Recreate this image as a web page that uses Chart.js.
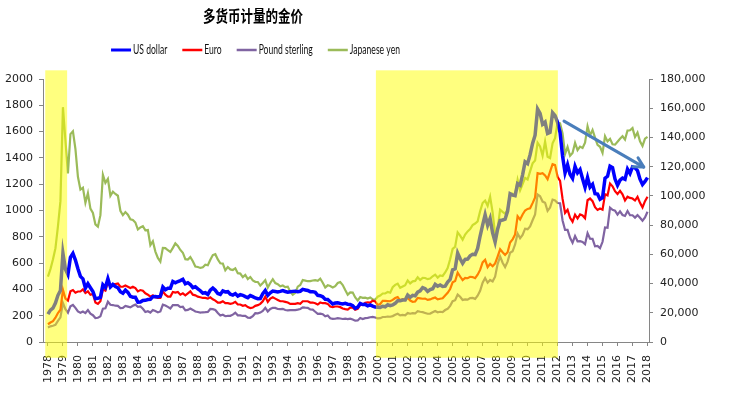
<!DOCTYPE html>
<html>
<head>
<meta charset="utf-8">
<script src="https://cdn.jsdelivr.net/npm/chart.js@4.4.0/dist/chart.umd.min.js"></script>
<style>
  body { margin: 0; background: #fff; }
</style>
</head>
<body>
<canvas id="myChart" width="734" height="396"></canvas>
<script>
// chart text
const chartTitle = "多货币计量的金价";
const seriesNames = ["US dollar", "Euro", "Pound sterling", "Japanese yen"];
const seriesColors = ["#0000FF", "#FF0000", "#8064A2", "#9BBB59"];

// year tick labels on the x axis
const yearLabels = [1978, 1979, 1980, 1981, 1982, 1983, 1984, 1985, 1986, 1987,
  1988, 1989, 1990, 1991, 1992, 1993, 1994, 1995, 1996, 1997, 1998, 1999, 2000,
  2001, 2002, 2003, 2004, 2005, 2006, 2007, 2008, 2009, 2010, 2011, 2012, 2013,
  2014, 2015, 2016, 2017, 2018];

// values, 6 per year starting at the 1978 tick
const firstYear = 1978;
const perYear = 6;

const usDollar = [
  212, 242, 257, 296, 355, 392,
  675, 554, 513, 644, 674, 623,
  557, 499, 480, 409, 443, 413,
  384, 330, 333, 339, 435, 414,
  481, 419, 438, 422, 412, 382,
  371, 395, 377, 347, 341, 341,
  303, 304, 316, 317, 323, 325,
  345, 346, 342, 348, 418, 397,
  408, 408, 460, 450, 460, 467,
  477, 443, 451, 437, 413, 420,
  404, 390, 371, 375, 362, 394,
  410, 393, 369, 362, 389, 381,
  383, 363, 357, 368, 349, 360,
  355, 345, 337, 353, 345, 335,
  329, 330, 367, 392, 355, 374,
  387, 384, 381, 385, 391, 384,
  379, 382, 385, 386, 383, 386,
  400, 396, 392, 383, 383, 378,
  355, 352, 344, 324, 323, 306,
  289, 296, 299, 293, 289, 294,
  287, 286, 277, 256, 265, 293,
  285, 286, 275, 282, 273, 266,
  265, 263, 272, 268, 283, 276,
  282, 294, 314, 314, 319, 319,
  357, 340, 355, 351, 379, 389,
  414, 406, 384, 398, 405, 439,
  424, 434, 422, 425, 456, 476,
  549, 557, 676, 633, 598, 628,
  631, 655, 667, 665, 712, 806,
  889, 968, 888, 939, 829, 760,
  858, 924, 928, 934, 996, 1127,
  1117, 1113, 1205, 1193, 1271, 1370,
  1356, 1424, 1510, 1572, 1772, 1739,
  1656, 1673, 1585, 1594, 1744, 1722,
  1670, 1593, 1414, 1286, 1348, 1275,
  1244, 1336, 1287, 1311, 1241, 1176,
  1251, 1178, 1199, 1128, 1125, 1086,
  1097, 1246, 1260, 1337, 1326, 1239,
  1192, 1231, 1246, 1237, 1315, 1282,
  1331, 1324, 1303, 1238, 1198, 1221,
  1250
];

const euro = [
  135, 148, 158, 185, 220, 245,
  397, 330, 315, 385, 395, 375,
  384, 384, 400, 372, 385, 359,
  366, 300, 290, 310, 400, 390,
  455, 420, 440, 440, 445, 420,
  420, 430, 420, 410, 420, 410,
  385, 395, 390, 370, 360, 345,
  355, 340, 335, 335, 385, 360,
  345, 345, 380, 375, 380, 360,
  370, 355, 370, 385, 360, 355,
  345, 340, 335, 335, 330, 340,
  325, 315, 300, 300, 310, 295,
  295, 290, 295, 305, 285, 285,
  275, 280, 265, 258, 262, 275,
  280, 290, 310, 345, 305, 330,
  340, 330, 320, 310, 310, 305,
  300, 290, 290, 290, 295, 290,
  310, 310, 310, 300, 300, 295,
  285, 300, 295, 295, 290, 270,
  265, 270, 270, 265, 255, 250,
  247, 262, 261, 246, 252, 284,
  282, 298, 302, 300, 314, 309,
  282, 289, 313, 312, 311, 310,
  320, 334, 341, 317, 326, 319,
  337, 315, 306, 308, 335, 332,
  329, 330, 320, 324, 332, 338,
  324, 329, 332, 354, 374, 403,
  454, 464, 528, 498, 471, 487,
  485, 496, 494, 485, 512, 548,
  605, 625, 569, 594, 576, 598,
  650, 705, 682, 662, 682, 756,
  781, 818, 956, 932, 970, 1000,
  1012, 1017, 1056, 1099, 1284, 1279,
  1284, 1267, 1238, 1296, 1352, 1345,
  1256, 1225, 1088, 982, 1006, 944,
  915, 968, 939, 971, 962, 941,
  1078, 1091, 1071, 1025, 1004, 1015,
  1006, 1123, 1115, 1205, 1184, 1147,
  1125, 1150, 1123, 1076, 1105, 1096,
  1091, 1076, 1104, 1058, 1024, 1071,
  1105
];

const poundSterling = [
  110, 119, 124, 130, 161, 187,
  297, 250, 223, 272, 282, 260,
  232, 222, 232, 220, 243, 215,
  204, 182, 184, 195, 253, 256,
  306, 283, 281, 276, 275, 258,
  259, 274, 269, 263, 275, 284,
  268, 271, 253, 228, 234, 224,
  243, 235, 225, 232, 284, 278,
  267, 255, 280, 280, 280, 265,
  268, 241, 244, 254, 244, 232,
  228, 224, 226, 227, 229, 251,
  250, 243, 220, 201, 207, 196,
  198, 199, 208, 222, 203, 202,
  198, 199, 185, 184, 196, 219,
  218, 224, 237, 260, 232, 251,
  260, 259, 251, 250, 252, 243,
  241, 242, 242, 243, 246, 251,
  263, 261, 260, 247, 246, 230,
  214, 216, 211, 195, 201, 181,
  176, 177, 182, 179, 175, 177,
  174, 177, 171, 162, 164, 182,
  174, 181, 183, 188, 191, 186,
  179, 181, 190, 190, 194, 192,
  197, 207, 215, 203, 206, 203,
  220, 215, 219, 217, 235, 230,
  227, 221, 215, 216, 226, 236,
  226, 230, 228, 243, 252, 275,
  310, 318, 361, 344, 320, 324,
  322, 334, 335, 328, 352, 389,
  451, 486, 451, 472, 461, 497,
  592, 651, 603, 570, 611, 679,
  690, 742, 825, 790, 815, 862,
  858, 879, 926, 970, 1122, 1108,
  1068, 1059, 997, 1022, 1083, 1076,
  1057, 1055, 924, 852, 853, 792,
  754, 805, 766, 767, 761, 744,
  828, 785, 784, 728, 731, 714,
  762, 871, 869, 1021, 1005, 999,
  969, 993, 966, 959, 996, 964,
  964, 946, 965, 945, 922, 947,
  990
];

// right axis (yen)
const japaneseYen = [
  44700, 49900, 56500, 64200, 79200, 96400,
  160700, 137900, 115400, 142300, 144200, 132100,
  113100, 104300, 105600, 95300, 101900, 91300,
  88300, 80500, 78900, 86800, 114400, 108900,
  111600, 100100, 102900, 101300, 100100, 89800,
  86800, 88900, 87100, 84000, 83500, 81800,
  77000, 78400, 79300, 76400, 76600, 66300,
  69000, 61900, 57500, 55000, 64400, 64300,
  62800, 61600, 64400, 67500, 65800, 63000,
  61100, 56700, 56400, 58100, 55300, 51700,
  51300, 50700, 51200, 52900, 52500, 56300,
  59500, 60100, 56500, 53900, 53700, 49100,
  51300, 49700, 49300, 50400, 47100, 46800,
  44400, 45900, 43100, 44500, 42100, 41200,
  41100, 38600, 40400, 42300, 37300, 40400,
  43000, 40300, 39600, 38100, 38700, 37600,
  37900, 34400, 32300, 33600, 37900, 39000,
  42400, 42000, 41600, 41700, 42100, 42300,
  41900, 43300, 40600, 37300, 38800, 38300,
  37300, 38200, 40400, 41000, 39000, 35600,
  32400, 34000, 33800, 30500, 28400, 30800,
  30200, 30300, 29700, 30500, 29200, 29000,
  31000, 31800, 33200, 33200, 34200, 33700,
  37500, 39100, 39900, 37100, 38000, 38900,
  42100, 40100, 41500, 41800, 44300, 42400,
  43900, 43800, 43000, 43400, 45000, 46100,
  44100, 45600, 45200, 47600, 50600, 56600,
  63700, 65200, 75000, 72800, 70000, 73500,
  75700, 77300, 80000, 81100, 82600, 89500,
  95100, 96800, 93200, 99500, 88700, 73700,
  77200, 90600, 89100, 87800, 90600, 101400,
  101600, 100200, 110900, 103800, 108000, 112300,
  111200, 116800, 122300, 124200, 136400, 133900,
  127500, 137200, 126800, 125900, 136000, 139500,
  150300, 149700, 142800, 128600, 133500, 127500,
  129400, 136300, 131300, 133700, 132800, 136400,
  147600, 141400, 145100, 139900, 135000, 133600,
  129400, 140800, 137300, 139000, 135300, 135100,
  137100, 139100, 140800, 138500, 144700, 144900,
  146400, 140300, 143300, 137400, 134200, 139200,
  140400
];

// shaded periods (x axis units) and the hand drawn trend arrow (x, left axis value)
const shadedPeriods = [[1977.82, 1979.28], [1999.88, 2012.02]];
const shadeRange = [2066, -120];
const arrowFrom = [2012.43, 1680];
const arrowTo = [2017.75, 1330];

const toPoints = (vals) => vals.map((v, i) => ({ x: firstYear + i / perYear, y: v }));

const axisGray = "#868686";
const tickFont = { family: "DejaVu Sans", size: 11 };

const extras = {
  id: "extras",
  afterDatasetsDraw(chart) {
    const { ctx, scales } = chart;
    const x = scales.x, y = scales.y;
    ctx.save();
    ctx.fillStyle = "rgba(255,255,0,0.5)";
    shadedPeriods.forEach(([a, b]) => {
      const x0 = x.getPixelForValue(a), x1 = x.getPixelForValue(b);
      const y0 = y.getPixelForValue(shadeRange[0]), y1 = y.getPixelForValue(shadeRange[1]);
      ctx.fillRect(x0, y0, x1 - x0, y1 - y0);
    });

    // arrow
    const ax = x.getPixelForValue(arrowFrom[0]), ay = y.getPixelForValue(arrowFrom[1]);
    const bx = x.getPixelForValue(arrowTo[0]), by = y.getPixelForValue(arrowTo[1]);
    const ang = Math.atan2(by - ay, bx - ax);
    ctx.strokeStyle = "#4A7EBB";
    ctx.lineWidth = 3;
    ctx.lineCap = "round";
    ctx.lineJoin = "round";
    ctx.beginPath();
    ctx.moveTo(ax, ay);
    ctx.lineTo(bx, by);
    ctx.stroke();
    ctx.beginPath();
    ctx.moveTo(bx - 11 * Math.cos(ang - 0.5), by - 11 * Math.sin(ang - 0.5));
    ctx.lineTo(bx, by);
    ctx.lineTo(bx - 11 * Math.cos(ang + 0.5), by - 11 * Math.sin(ang + 0.5));
    ctx.stroke();
    ctx.restore();
  },
  afterDraw(chart) {
    const ctx = chart.ctx;

    // title, a little condensed like the original
    ctx.save();
    ctx.fillStyle = "#000";
    ctx.font = "bold 16px 'Noto Sans CJK SC'";
    ctx.textAlign = "center";
    ctx.textBaseline = "middle";
    const tw = ctx.measureText(chartTitle).width;
    ctx.translate(253, 16);
    ctx.scale(100 / tw, 1);
    ctx.fillText(chartTitle, 0, 0);
    ctx.restore();

    // legend: 20px line samples, narrow text
    ctx.save();
    ctx.font = "13px Lato";
    ctx.textAlign = "left";
    ctx.textBaseline = "middle";
    const lineLen = 20, gap = 2, itemGap = 15, squeeze = 0.66;
    const widths = seriesNames.map(n => ctx.measureText(n).width * squeeze);
    const total = widths.reduce((s, w) => s + lineLen + gap + w, 0) + itemGap * (seriesNames.length - 1);
    let cx = 255.5 - total / 2;
    seriesNames.forEach((n, i) => {
      ctx.strokeStyle = seriesColors[i];
      ctx.lineWidth = i === 0 ? 3 : 2.5;
      ctx.beginPath();
      ctx.moveTo(cx, 50);
      ctx.lineTo(cx + lineLen, 50);
      ctx.stroke();
      ctx.save();
      ctx.translate(cx + lineLen + gap, 50);
      ctx.scale(squeeze, 1);
      ctx.fillStyle = "#111";
      ctx.fillText(n, 0, 0);
      ctx.restore();
      cx += lineLen + gap + widths[i] + itemGap;
    });
    ctx.restore();
  }
};

const ctx = document.getElementById("myChart").getContext("2d");
const myChart = new Chart(ctx, {
  type: "line",
  data: {
    datasets: [
      { label: seriesNames[0], data: toPoints(usDollar), borderColor: seriesColors[0], borderWidth: 3.5, yAxisID: "y" },
      { label: seriesNames[1], data: toPoints(euro), borderColor: seriesColors[1], borderWidth: 2.2, yAxisID: "y" },
      { label: seriesNames[2], data: toPoints(poundSterling), borderColor: seriesColors[2], borderWidth: 2.2, yAxisID: "y" },
      { label: seriesNames[3], data: toPoints(japaneseYen), borderColor: seriesColors[3], borderWidth: 2.2, yAxisID: "y2" },
    ],
  },
  options: {
    responsive: false,
    animation: false,
    elements: { point: { radius: 0 }, line: { tension: 0 } },
    layout: { padding: { top: 79, left: 0, right: 0, bottom: 0 } },
    plugins: { legend: { display: false }, title: { display: false }, tooltip: { enabled: false } },
    scales: {
      x: {
        type: "linear",
        min: 1977.67,
        max: 2018.1,
        afterBuildTicks: (s) => { s.ticks = yearLabels.map(v => ({ value: v })); },
        afterFit: (s) => { s.height = 54; },
        grid: { drawOnChartArea: false, tickLength: 4, color: axisGray },
        border: { color: axisGray },
        ticks: {
          autoSkip: false, minRotation: 90, maxRotation: 90, padding: 9,
          font: tickFont, color: "#222",
          callback: (v) => String(v),
        },
      },
      y: {
        position: "left",
        min: 0,
        max: 2000,
        afterFit: (s) => { s.width = 43; },
        grid: { drawOnChartArea: false, tickLength: 4, color: axisGray },
        border: { color: axisGray },
        ticks: { stepSize: 200, padding: 6, font: tickFont, color: "#222", callback: (v) => String(v) },
      },
      y2: {
        position: "right",
        min: 0,
        max: 180000,
        afterFit: (s) => { s.width = 85; },
        grid: { drawOnChartArea: false, tickLength: 4, color: axisGray },
        border: { color: axisGray },
        ticks: { stepSize: 20000, padding: 7, font: tickFont, color: "#222", callback: (v) => v.toLocaleString("en-US") },
      },
    },
  },
  plugins: [extras],
});
</script>
</body>
</html>
